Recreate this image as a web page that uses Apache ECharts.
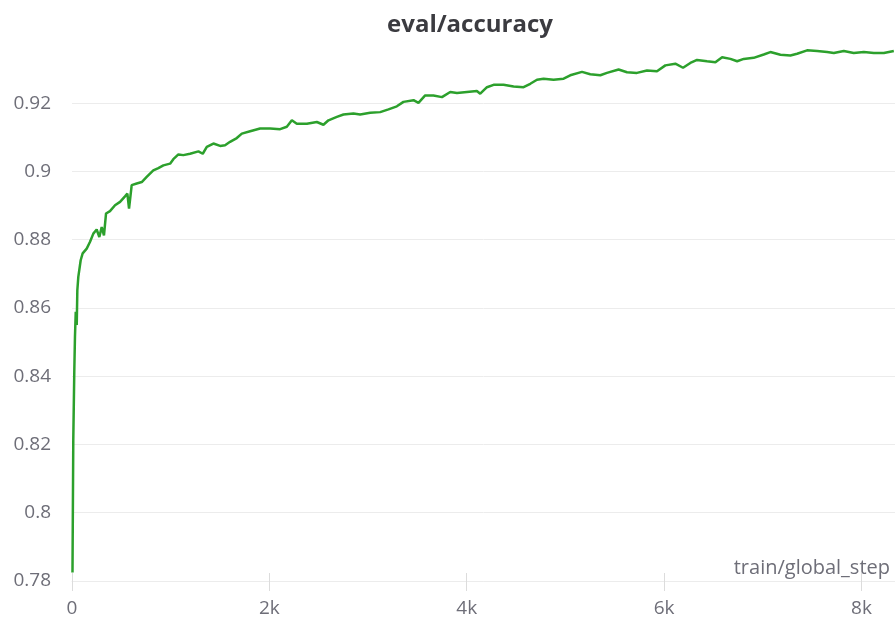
<!DOCTYPE html>
<html>
<head>
<meta charset="utf-8">
<title>eval/accuracy</title>
<script src="https://cdn.jsdelivr.net/npm/echarts@6/dist/echarts.min.js"></script>
<style>
  html, body { margin: 0; padding: 0; background: #fff; }
  #chart { width: 895px; height: 625px; }
</style>
</head>
<body>
<div id="chart"></div>
<script>
// values
const steps = [
  5, 13, 23, 30, 38, 48, 54, 64, 88, 108, 149, 183, 216, 250, 277, 301, 324, 345, 385, 436,
  487, 537, 561, 578, 605, 656, 707, 757, 824, 875, 926, 994, 1027, 1078, 1128, 1196, 1281, 1325, 1366, 1433,
  1501, 1551, 1602, 1670, 1721, 1805, 1906, 2008, 2109, 2177, 2228, 2278, 2380, 2481, 2548, 2599, 2684, 2751, 2852, 2920,
  3022, 3123, 3207, 3292, 3359, 3461, 3511, 3579, 3663, 3749, 3833, 3901, 4002, 4103, 4137, 4205, 4272, 4373, 4475, 4576,
  4644, 4712, 4779, 4880, 4982, 5049, 5168, 5252, 5354, 5421, 5539, 5624, 5725, 5827, 5928, 6013, 6114, 6192, 6266, 6334,
  6435, 6520, 6588, 6672, 6740, 6807, 6908, 7010, 7077, 7179, 7280, 7348, 7449, 7551, 7652, 7720, 7821, 7922, 8024, 8125,
  8227, 8328
];
const accuracy = [
  0.7825, 0.8213, 0.8410, 0.8515, 0.8589, 0.8550, 0.8652, 0.8691, 0.8740, 0.8760, 0.8774, 0.8794, 0.8818, 0.8830, 0.8808, 0.8837, 0.8813, 0.8877, 0.8884, 0.8901,
  0.8911, 0.8927, 0.8935, 0.8891, 0.8960, 0.8965, 0.8969, 0.8984, 0.9003, 0.9010, 0.9018, 0.9023, 0.9036, 0.9050, 0.9048, 0.9052, 0.9059, 0.9052, 0.9072, 0.9082,
  0.9075, 0.9077, 0.9087, 0.9098, 0.9111, 0.9118, 0.9126, 0.9126, 0.9124, 0.9131, 0.9150, 0.9140, 0.9140, 0.9145, 0.9137, 0.9150, 0.9160, 0.9167, 0.9170, 0.9167,
  0.9172, 0.9174, 0.9182, 0.9191, 0.9204, 0.9209, 0.9201, 0.9223, 0.9223, 0.9218, 0.9233, 0.9230, 0.9233, 0.9236, 0.9228, 0.9247, 0.9254, 0.9254, 0.9249, 0.9247,
  0.9257, 0.9269, 0.9272, 0.9269, 0.9272, 0.9282, 0.9292, 0.9285, 0.9282, 0.9289, 0.9299, 0.9291, 0.9289, 0.9296, 0.9294, 0.9311, 0.9316, 0.9304, 0.9318, 0.9327,
  0.9323, 0.9320, 0.9335, 0.9330, 0.9323, 0.9330, 0.9333, 0.9343, 0.9350, 0.9342, 0.9340, 0.9345, 0.9355, 0.9353, 0.9350, 0.9347, 0.9353, 0.9347, 0.9350, 0.9347,
  0.9347, 0.9353
];
const yTicks = [0.78, 0.8, 0.82, 0.84, 0.86, 0.88, 0.9, 0.92];
const xTicks = [0, 2000, 4000, 6000, 8000];

const FONT = '"Open Sans", "Noto Sans", sans-serif';
const labelColor = '#6e6e78';
const gridColor = '#ececec';

const chart = echarts.init(document.getElementById('chart'));

const option = {
  animation: false,
  title: {
    text: 'eval/accuracy',
    left: 465,
    top: 8,
    textAlign: 'center',
    textStyle: { fontFamily: FONT, fontSize: 24, fontWeight: 'bold', color: '#3b3b40' }
  },
  grid: { left: 72, right: 0, top: 35, bottom: 44, containLabel: false },
  xAxis: [
    {
      type: 'value',
      min: 0,
      max: 8340,
      interval: 2000,
      name: 'train/global_step',
      nameLocation: 'end',
      nameGap: -5,
      nameTextStyle: {
        fontFamily: FONT, fontSize: 20, color: labelColor,
        align: 'right', verticalAlign: 'bottom', padding: [0, 0, 3, 0]
      },
      axisLine: { show: true, lineStyle: { color: gridColor, width: 1 } },
      axisTick: { show: true, length: 10, lineStyle: { color: '#dcdcdc' } },
      axisLabel: {
        margin: 18,
        fontFamily: FONT, fontSize: 19, color: labelColor,
        showMaxLabel: false,
        formatter: v => xTicks.includes(v) ? (v === 0 ? '0' : v / 1000 + 'k') : ''
      },
      splitLine: { show: false }
    },
    {
      // upper half of the x ticks
      type: 'value',
      min: 0,
      max: 8340,
      interval: 2000,
      position: 'bottom',
      axisLine: { show: false },
      axisTick: { show: true, inside: true, length: 8, lineStyle: { color: '#dcdcdc' } },
      axisLabel: { show: false },
      splitLine: { show: false }
    }
  ],
  yAxis: {
    type: 'value',
    min: 0.78,
    max: 0.94,
    interval: 0.02,
    axisLine: { show: false },
    axisTick: { show: false },
    axisLabel: {
      margin: 21,
      fontFamily: FONT, fontSize: 19, color: labelColor,
      showMaxLabel: false,
      formatter: v => {
        const t = yTicks.find(k => Math.abs(k - v) < 1e-9);
        return t === undefined ? '' : String(t);
      }
    },
    splitLine: { show: true, showMaxLine: false, lineStyle: { color: gridColor, width: 1 } }
  },
  series: [
    {
      type: 'line',
      xAxisIndex: 0,
      data: steps.map((s, i) => [s, accuracy[i]]),
      showSymbol: false,
      symbol: 'none',
      lineStyle: { color: '#2ca02c', width: 2.5 },
      itemStyle: { color: '#2ca02c' }
    }
  ]
};

chart.setOption(option);

window.addEventListener('resize', () => chart.resize());
</script>
</body>
</html>
